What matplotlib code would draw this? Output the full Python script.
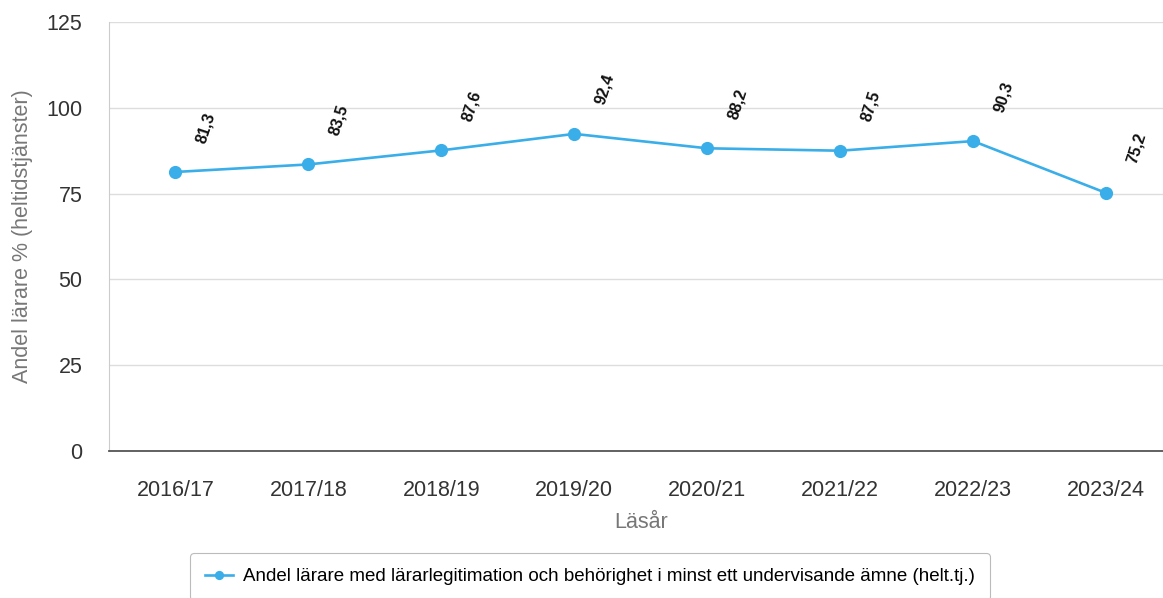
import matplotlib
matplotlib.use('Agg')
import matplotlib.pyplot as plt

# data
lasar = ['2016/17', '2017/18', '2018/19', '2019/20', '2020/21', '2021/22', '2022/23', '2023/24']
andel = [81.3, 83.5, 87.6, 92.4, 88.2, 87.5, 90.3, 75.2]
y_ticks = [0, 25, 50, 75, 100, 125]
serie_namn = 'Andel lärare med lärarlegitimation och behörighet i minst ett undervisande ämne (helt.tj.)'

plt.rcParams['font.family'] = ['Liberation Sans', 'DejaVu Sans']

W, H = 1163, 598
fig = plt.figure(figsize=(W / 100, H / 100), dpi=100)
# plot area in pixels: left 109, right 1172 (cut by figure edge), top 22, bottom 451
ax = fig.add_axes([109 / W, 1 - 451 / H, (1172.5 - 109) / W, (451 - 22) / H])

LINE = '#3aaee8'
x = list(range(len(lasar)))
ax.plot(x, andel, color=LINE, linewidth=1.9, marker='o', markersize=9.5,
        markeredgewidth=0, zorder=3, label=serie_namn)

# dataetiketter, roterade
for xi, v in zip(x, andel):
    ax.annotate(f'{v:.1f}'.replace('.', ','), xy=(xi, v), xytext=(22, 32),
                textcoords='offset points', rotation=72, ha='center', va='center',
                fontsize=11.5, fontweight='bold', color='#111111')

ax.set_xlim(-0.5, len(lasar) - 0.5)
ax.set_ylim(0, 125)
ax.set_yticks(y_ticks)
ax.set_xticks(x)
ax.set_xticklabels(lasar)
ax.tick_params(axis='both', length=0, labelsize=15.5, colors='#333333')
ax.tick_params(axis='y', pad=19)
ax.tick_params(axis='x', pad=21)
ax.grid(axis='y', color='#dddddd', linewidth=1)
ax.set_axisbelow(True)

for s in ['top', 'right']:
    ax.spines[s].set_visible(False)
ax.spines['left'].set_color('#cccccc')
ax.spines['bottom'].set_color('#555555')
ax.spines['bottom'].set_linewidth(1.3)

ax.set_xlabel('Läsår', fontsize=15.5, color='#777777', labelpad=8)
ax.set_ylabel('Andel lärare % (heltidstjänster)', fontsize=15.5, color='#777777', labelpad=10)

leg = fig.legend(loc='upper center', bbox_to_anchor=(590 / W, 1 - 553 / H),
                 fontsize=13.5, frameon=True, fancybox=True, edgecolor='#aaaaaa',
                 handlelength=1.5, borderpad=0.8, handletextpad=0.5, markerscale=0.7,
                 borderaxespad=0)
leg.get_frame().set_linewidth(0.8)

fig.savefig('out.png', dpi=100)
